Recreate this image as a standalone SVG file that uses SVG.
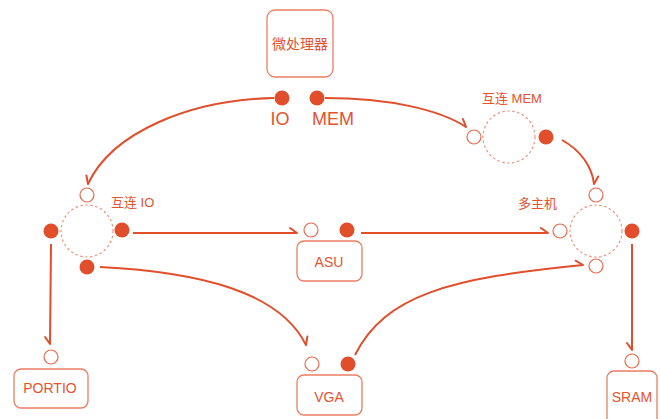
<svg xmlns="http://www.w3.org/2000/svg" width="660" height="419" viewBox="0 0 660 419">
<style>
.box{fill:#fff;stroke:#EC7D63;stroke-width:1.3}
.t{font-family:"Liberation Sans","Noto Sans CJK SC",sans-serif;fill:#E4532E}
.hub{fill:none;stroke:#EE8C74;stroke-width:1.1;stroke-dasharray:2.5 2.5}
.on{fill:#E04E2B}
.off{fill:#fff;stroke:#E9694B;stroke-width:1.2}
.c{fill:none;stroke:#E04E2B;stroke-width:2}
</style>
<defs>
<marker id="hl" viewBox="-10 -8 12 16" markerWidth="12" markerHeight="16" refX="0" refY="0" orient="auto" markerUnits="userSpaceOnUse">
<path d="M-7 -5 L0 0" fill="none" stroke="#E04E2B" stroke-width="2" stroke-linecap="round"/>
</marker>
<marker id="hr" viewBox="-10 -8 12 16" markerWidth="12" markerHeight="16" refX="0" refY="0" orient="auto" markerUnits="userSpaceOnUse">
<path d="M-7 5 L0 0" fill="none" stroke="#E04E2B" stroke-width="2" stroke-linecap="round"/>
</marker>
</defs>
<g id="connectors">
<path class="c" d="M274 98 C190 100 112 132 88 184" marker-end="url(#hr)"/>
<path class="c" d="M325 98 C390 98 440 110 466 127" marker-end="url(#hl)"/>
<path class="c" d="M562 140 C580 150 592 166 594 184" marker-end="url(#hl)"/>
<path class="c" d="M133 233 L297 233" marker-end="url(#hl)"/>
<path class="c" d="M361 233 L548 233" marker-end="url(#hl)"/>
<path class="c" d="M100 267 C200 272 280 292 306 345" marker-end="url(#hl)"/>
<path class="c" d="M355 355 C385 295 450 278 583 265" marker-end="url(#hl)"/>
<path class="c" d="M51 244 L50 344" marker-end="url(#hr)"/>
<path class="c" d="M632 244 L632 350" marker-end="url(#hr)"/>
</g>
<g id="cpu">
<rect class="box" x="267" y="10" width="66" height="67" rx="8"/>
<text class="t" x="300" y="49" font-size="14" text-anchor="middle">微处理器</text>
<circle class="on" cx="282" cy="98" r="7.5"/>
<circle class="on" cx="317" cy="98" r="7.5"/>
<text class="t" x="280" y="125" font-size="18" text-anchor="middle">IO</text>
<text class="t" x="333" y="125" font-size="18" text-anchor="middle">MEM</text>
</g>
<g id="hub-io">
<circle class="hub" cx="87" cy="231" r="26"/>
<circle class="off" cx="87" cy="195" r="7"/>
<circle class="on" cx="51" cy="231" r="7.5"/>
<circle class="on" cx="122" cy="230" r="7.5"/>
<circle class="on" cx="87" cy="267" r="7.5"/>
<text class="t" x="111" y="207" font-size="13">互连 IO</text>
</g>
<g id="hub-mem">
<circle class="hub" cx="509" cy="137" r="26"/>
<circle class="off" cx="474" cy="137" r="7"/>
<circle class="on" cx="546" cy="137" r="7.5"/>
<text class="t" x="482" y="103" font-size="13">互连 MEM</text>
</g>
<g id="multimaster">
<circle class="hub" cx="596" cy="231" r="26"/>
<circle class="off" cx="596" cy="195" r="7"/>
<circle class="off" cx="560" cy="231" r="7"/>
<circle class="on" cx="632" cy="231" r="7.5"/>
<circle class="off" cx="596" cy="266" r="7"/>
<text class="t" x="518" y="208" font-size="13">多主机</text>
</g>
<g id="asu">
<rect class="box" x="297" y="241" width="65" height="40" rx="7"/>
<circle class="off" cx="311" cy="230" r="7"/>
<circle class="on" cx="347" cy="230" r="7.5"/>
<text class="t" x="329" y="267" font-size="14" text-anchor="middle">ASU</text>
</g>
<g id="portio">
<rect class="box" x="14" y="369" width="74" height="39" rx="7"/>
<circle class="off" cx="51" cy="357" r="7"/>
<text class="t" x="50" y="393" font-size="14" text-anchor="middle">PORTIO</text>
</g>
<g id="vga">
<rect class="box" x="297" y="375" width="65" height="40" rx="7"/>
<circle class="off" cx="312" cy="364" r="7"/>
<circle class="on" cx="348" cy="364" r="7.5"/>
<text class="t" x="329" y="402" font-size="14" text-anchor="middle">VGA</text>
</g>
<g id="sram">
<rect class="box" x="607" y="371" width="50" height="60" rx="7"/>
<circle class="off" cx="632" cy="361" r="7"/>
<text class="t" x="632" y="402" font-size="14" text-anchor="middle">SRAM</text>
</g>
</svg>
